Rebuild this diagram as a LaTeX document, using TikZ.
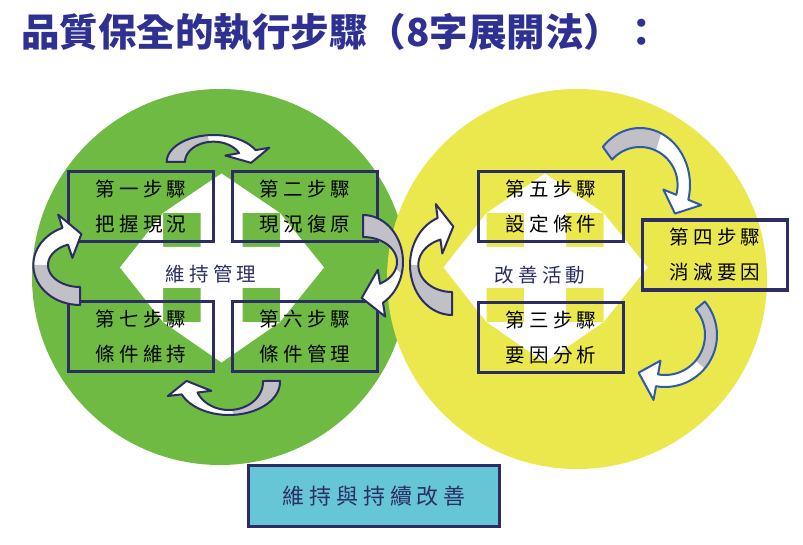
\documentclass[tikz,border=0pt]{standalone}
\usepackage{fontspec}
\usepackage{tikz}
\usetikzlibrary{calc}
\newfontfamily\cjk{Noto Sans CJK TC}
\newfontfamily\cjkspaced{Noto Sans CJK TC}[LetterSpace=22]

\definecolor{titleblue}{RGB}{46,49,146}
\definecolor{navy}{RGB}{44,45,100}
\definecolor{edgeblue}{RGB}{46,90,170}
\definecolor{leafgreen}{RGB}{110,186,66}
\definecolor{lemon}{RGB}{234,232,76}
\definecolor{tailgray}{RGB}{192,192,198}
\definecolor{aqua}{RGB}{102,198,214}

\tikzset{
  stepbox/.style={draw=navy, line width=3.5pt, minimum width=145pt, minimum height=70pt,
    inner sep=0pt, align=center, font=\cjkspaced\fontsize{19.5}{35}\selectfont},
  areatext/.style={text=navy, inner sep=0pt, font=\cjkspaced\fontsize{19.5}{22}\selectfont},
  curlline/.style={draw=navy, line width=2pt, line join=round},
}

\def\flare{14pt}
% four-headed white arrow behind the boxes
\newcommand{\quadarrow}[1]{%
  \fill[white, even odd rule, shift={(#1)}]
    (0,-94) -- (58.5,-54.5) -- (102.5,0) -- (58.5,54.5) -- (0,95)
    -- (-58.5,54.5) -- (-101.5,0) -- (-58.5,-54.5) -- cycle
    (21,-20.5) rectangle (58.5,-54.5) (-21,-20.5) rectangle (-58.5,-54.5)
    (21,20.5) rectangle (58.5,54.5) (-21,20.5) rectangle (-58.5,54.5);}
% curved arrow: centre, outer radii, inner radii, tail, split, head base, tip
\newcommand{\curlarrow}[9]{%
  \begin{scope}[shift={(#1)}]
    \coordinate (ho) at ({#2*cos(#8)},{#3*sin(#8)});
    \coordinate (hi) at ({#4*cos(#8)},{#5*sin(#8)});
    \coordinate (tp) at ({(#2+#4)/2*cos(#9)},{(#3+#5)/2*sin(#9)});
    \def\curlpath{plot[domain=#6:#8, samples=30] ({#2*cos(\x)},{#3*sin(\x)})
      -- ($(ho)!-\flare!(hi)$) -- (tp) -- ($(hi)!-\flare!(ho)$)
      -- plot[domain=#8:#6, samples=30] ({#4*cos(\x)},{#5*sin(\x)}) -- cycle}
    \fill[white] \curlpath;
    \fill[tailgray] plot[domain=#6:#7, samples=20] ({#2*cos(\x)},{#3*sin(\x)})
      -- plot[domain=#7:#6, samples=20] ({#4*cos(\x)},{#5*sin(\x)}) -- cycle;
    \draw[curlline] \curlpath;
  \end{scope}}

\begin{document}
\begin{tikzpicture}[x=1pt, y=-1pt]
\useasboundingbox (0,0) rectangle (803,545);
\fill[white] (0,0) rectangle (803,545);

% Title
\node[anchor=west, inner sep=0pt, text=titleblue, font=\cjk\bfseries\fontsize{38.5}{40}\selectfont] (title) at (21,32) {品質保全的執行步驟（8字展開法）：};

% Circles
\fill[leafgreen] (220,277) circle[radius=188pt];
\fill[lemon] (577,279) circle[radius=190pt];

% Four-way arrows
\coordinate (keepc) at (221.5,267.5);
\coordinate (impc) at (545,267.5);
\quadarrow{keepc}
\quadarrow{impc}

% Steps of the left circle
\node[stepbox] (step1) at (141,206.5) {第一步驟\\把握現況};
\node[stepbox] (step2) at (305,206.5) {第二步驟\\現況復原};
\node[stepbox] (step7) at (141,336.5) {第七步驟\\條件維持};
\node[stepbox] (step6) at (305,336.5) {第六步驟\\條件管理};
\node[areatext] (keep) at (211,274) {維持管理};

% Steps of the right circle
\node[stepbox] (step5) at (551,206.5) {第五步驟\\設定條件};
\node[stepbox] (step3) at (551,337.5) {第三步驟\\要因分析};
\node[stepbox] (step4) at (715,255) {第四步驟\\消滅要因};
\node[areatext] (improve) at (540,275) {改善活動};

% Curved arrows
\curlarrow{213.5,162}{46.8}{27}{28.5}{20.3}{180}{262}{334}{2}
\curlarrow{80,265}{46.7}{40}{32}{22}{90}{180}{248}{272}
\curlarrow{229,382}{51}{33}{34}{28}{-2}{85}{158}{182}
\curlarrow{363,262}{40}{47}{34}{25}{270}{375}{420}{452}
\curlarrow{452,265}{42}{50}{33.7}{27}{90}{180}{250}{272}
\begin{scope}[curlline/.style={draw=edgeblue, line width=2pt, line join=round}]
\curlarrow{640,185}{50}{57}{37.6}{38}{222}{295}{375}{397}
\curlarrow{665,335}{52}{52}{40}{40}{320}{400}{460}{485}
\end{scope}

% Goal
\node[stepbox, fill=aqua, minimum width=251pt, minimum height=61pt, text=navy,
  font=\cjkspaced\fontsize{22}{25}\selectfont] (goal) at (374.2,495.8) {維持與持續改善};
\end{tikzpicture}
\end{document}
